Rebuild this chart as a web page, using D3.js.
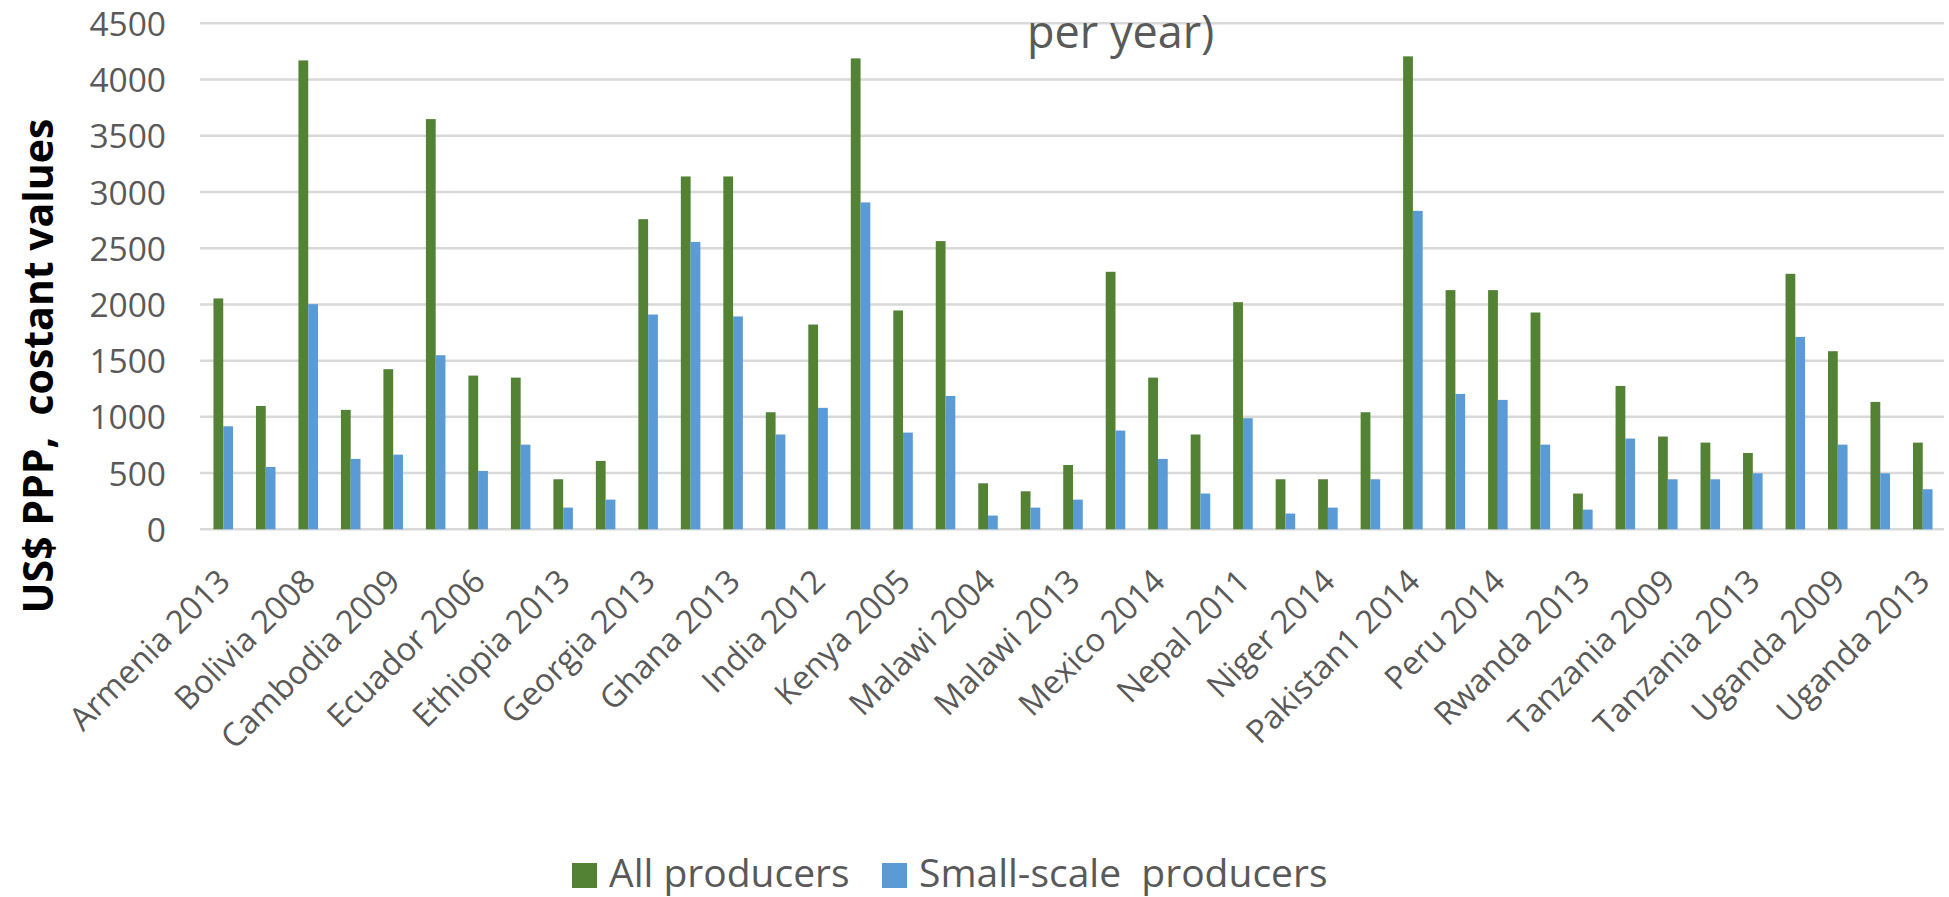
<!DOCTYPE html>
<html>
<head>
<meta charset="utf-8">
<script src="https://cdn.jsdelivr.net/npm/d3@7"></script>
<style>
  html, body { margin: 0; padding: 0; background: #ffffff; }
  svg { display: block; }
  text { font-family: "Open Sans", "Noto Sans", sans-serif; }
</style>
</head>
<body>
<svg id="chart" width="1949" height="897"></svg>
<script>
// ---- Data ----
const categories = [
  "Armenia 2013", "Bangladesh 2010", "Bolivia 2008", "Bolivia 2014", "Cambodia 2009",
  "Ecuador 1998", "Ecuador 2006", "Ethiopia 2011", "Ethiopia 2013", "Ethiopia 2015",
  "Georgia 2013", "Ghana 2005", "Ghana 2013", "Guatemala 2006", "India 2012",
  "Indonesia 2014", "Kenya 2005", "Kyrgyzstan 2012", "Malawi 2004", "Malawi 2010",
  "Malawi 2013", "Mexico 2012", "Mexico 2014", "Nepal 2003", "Nepal 2011",
  "Niger 2011", "Niger 2014", "Nigeria 2012", "Pakistan1 2014", "Panama 2008",
  "Peru 2014", "Peru 2015", "Rwanda 2013", "Tajikistan 2009", "Tanzania 2009",
  "Tanzania 2011", "Tanzania 2013", "Uganda 2005", "Uganda 2009", "Uganda 2011",
  "Uganda 2013"
];
const allProducers = [
  2053, 1097, 4170, 1062, 1424, 3648, 1367, 1349, 445, 608,
  2758, 3138, 3138, 1041, 1821, 4188, 1946, 2563, 409, 338,
  572, 2290, 1349, 843, 2020, 445, 445, 1041, 4206, 2127,
  2127, 1928, 318, 1275, 825, 771, 679, 2272, 1584, 1133,
  771
];
const smallScaleProducers = [
  916, 554, 2002, 626, 664, 1548, 519, 753, 193, 264,
  1910, 2556, 1893, 843, 1080, 2907, 860, 1186, 122, 193,
  264, 878, 626, 318, 988, 140, 193, 445, 2832, 1204,
  1151, 753, 175, 807, 445, 445, 498, 1711, 753, 498,
  356
];
const seriesNames = ["All producers", "Small-scale  producers"];
const seriesColors = ["#548235", "#5B9BD5"];
const yTicks = [0, 500, 1000, 1500, 2000, 2500, 3000, 3500, 4000, 4500];
const titleTail = "per year)";
const yAxisTitle = "US$ PPP,  costant values";

// ---- Layout ----
const svg = d3.select("#chart");
const plotLeft = 202, plotRight = 1944, plotTop = 23.3, plotBottom = 529.3;

const x0 = d3.scaleBand().domain(categories).range([plotLeft, plotRight])
  .paddingInner(0.54).paddingOuter(0.27);
const x1 = d3.scaleBand().domain([0, 1]).range([0, x0.bandwidth()]);
const y = d3.scaleLinear().domain([0, 4500]).range([plotBottom, plotTop]);

// gridlines
svg.append("g").selectAll("line").data(yTicks).join("line")
  .attr("x1", 200).attr("x2", 1944)
  .attr("y1", d => y(d)).attr("y2", d => y(d))
  .attr("stroke", "#d9d9d9").attr("stroke-width", 2.5);

// y tick labels
const yAxis = d3.axisLeft(y).tickValues(yTicks).tickFormat(d3.format("d")).tickSize(0).tickPadding(0);
const gy = svg.append("g").attr("transform", "translate(166,0)").call(yAxis);
gy.select(".domain").remove();
gy.selectAll("text")
  .attr("font-family", "Open Sans")
  .attr("font-size", 33.5)
  .attr("fill", "#595959")
  .attr("dy", "0.36em");

// bars
const rows = categories.map((c, i) => ({ c, v: [allProducers[i], smallScaleProducers[i]] }));
const grp = svg.append("g").selectAll("g").data(rows).join("g")
  .attr("transform", d => `translate(${x0(d.c)},0)`);
grp.selectAll("rect").data(d => d.v.map((v, k) => ({ v, k }))).join("rect")
  .attr("x", d => x1(d.k))
  .attr("width", x1.bandwidth())
  .attr("y", d => y(d.v))
  .attr("height", d => y(0) - y(d.v))
  .attr("fill", d => seriesColors[d.k]);

// x labels (every other category shown)
const xAxis = d3.axisBottom(x0).tickValues(categories.filter((c, i) => i % 2 === 0)).tickSize(0);
const gx = svg.append("g").attr("transform", `translate(0,${plotBottom})`).call(xAxis);
gx.select(".domain").remove();
gx.selectAll(".tick text")
  .attr("font-family", "Open Sans")
  .attr("font-size", 32.5)
  .attr("fill", "#595959")
  .attr("text-anchor", "end")
  .attr("x", 0).attr("y", 0).attr("dy", 0)
  .attr("transform", "translate(9,54) rotate(-45)");

// title tail
svg.append("text")
  .attr("x", 1027).attr("y", 48)
  .attr("font-size", 45)
  .attr("fill", "#595959")
  .text(titleTail);

// y axis title
svg.append("text")
  .attr("transform", "translate(53,366) rotate(-90)")
  .attr("text-anchor", "middle")
  .attr("font-size", 41)
  .attr("font-weight", "bold")
  .attr("fill", "#000000")
  .style("white-space", "pre")
  .text(yAxisTitle);

// legend
const legendX = [572, 882];
const lg = svg.append("g").selectAll("g").data(seriesNames).join("g")
  .attr("transform", (d, i) => `translate(${legendX[i]},0)`);
lg.append("rect").attr("x", 0).attr("y", 863).attr("width", 25).attr("height", 25)
  .attr("fill", (d, i) => seriesColors[i]);
lg.append("text").attr("x", 37).attr("y", 887)
  .attr("font-size", 39).attr("fill", "#595959")
  .style("white-space", "pre")
  .text(d => d);
</script>
</body>
</html>
